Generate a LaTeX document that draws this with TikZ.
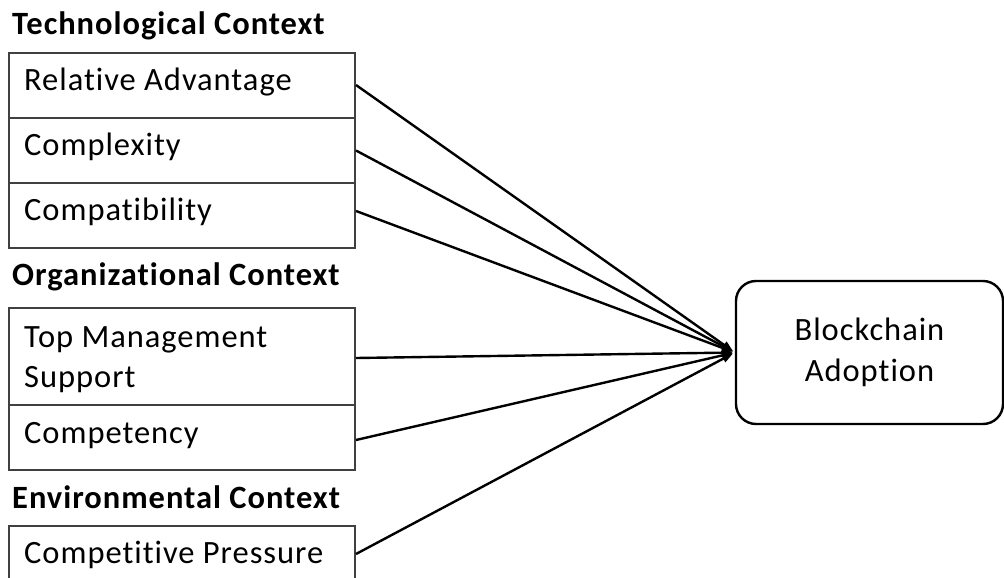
\documentclass[tikz,border=0pt]{standalone}
\usepackage{fontspec}
\setmainfont{Carlito}[Ligatures=NoCommon, LetterSpace=3]
\usetikzlibrary{arrows.meta}
\begin{document}
\begin{tikzpicture}[x=1pt,y=-1pt,
  rowbox/.style={draw=black!75, line width=2pt, minimum width=346pt, inner sep=0pt, anchor=north west},
  label/.style={anchor=base west, inner sep=0pt, font=\fontsize{32.5}{40}\selectfont},
  heading/.style={anchor=base west, inner sep=0pt, font=\fontsize{32.5}{40}\selectfont\bfseries},
  link/.style={line width=2.4pt, -{Triangle[length=11pt,width=8pt]}, shorten >=2pt},
  target/.style={draw, line width=2.4pt, rounded corners=20pt, minimum width=267pt, minimum height=143pt,
    align=center, inner sep=0pt, font=\fontsize{32.5}{41}\selectfont}]
\useasboundingbox (0,0) rectangle (1004,578);
\clip (0,0) rectangle (1004,578);

% Technological context
\node[heading] (th) at (12,35) {Technological Context};
\node[rowbox, minimum height=65pt] (ra) at (8,52) {};
\node[rowbox, minimum height=65pt] (cx) at (8,117) {};
\node[rowbox, minimum height=65pt] (cp) at (8,182) {};
\node[label] (tra) at (24,90) {Relative Advantage};
\node[label] (tcx) at (24,155) {Complexity};
\node[label] (tcp) at (24,220) {Compatibility};

% Organizational context
\node[heading] (oh) at (12,285) {Organizational Context};
\node[rowbox, minimum height=97pt] (tm) at (8,307) {};
\node[rowbox, minimum height=65pt] (ct) at (8,404) {};
\node[label] (ttm1) at (24,347) {Top Management};
\node[label] (ttm2) at (24,387) {Support};
\node[label] (tct) at (24,443) {Competency};

% Environmental context
\node[heading] (eh) at (12,508) {Environmental Context};
\node[rowbox, minimum height=65pt] (pr) at (8,525) {};
\node[label] (tpr) at (24,563) {Competitive Pressure};

% Outcome
\node[target] (ba) at (869.5,352.5) {Blockchain\\Adoption};

% Links into the outcome
\draw[link] ([yshift=0.5pt]ra.east) -- (ba.west);
\draw[link] (cx.east) -- (ba.west);
\draw[link] ([yshift=4.5pt]cp.east) -- (ba.west);
\draw[link] ([yshift=-1.5pt]tm.east) -- (ba.west);
\draw[link] ([yshift=-2.5pt]ct.east) -- (ba.west);
\draw[link] ([yshift=4.5pt]pr.east) -- (ba.west);
\end{tikzpicture}
\end{document}
